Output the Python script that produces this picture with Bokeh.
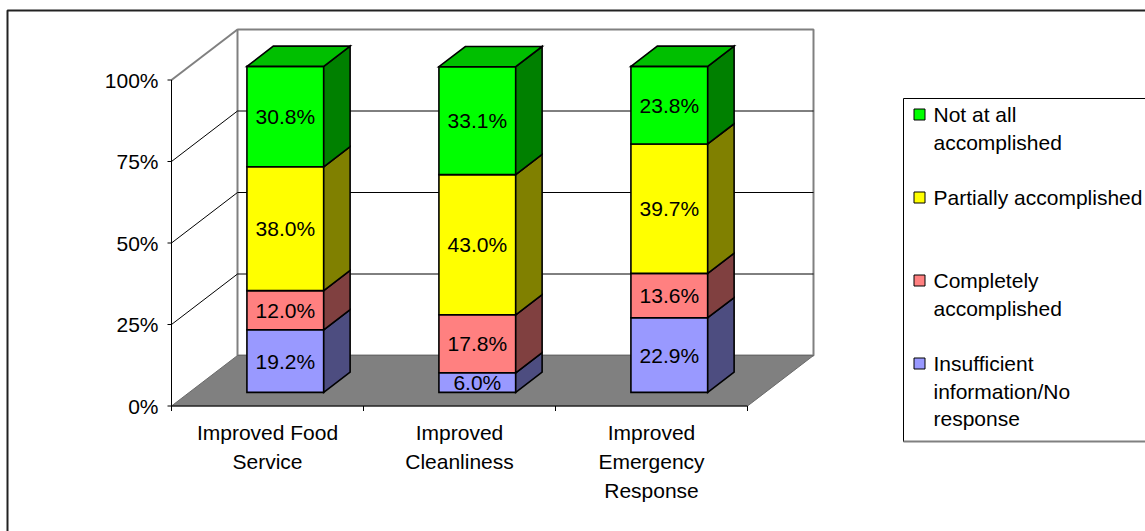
from bokeh.plotting import figure
from bokeh.models import Range1d, ColumnDataSource
from bokeh.core.properties import value
from bokeh.embed import file_html
from bokeh.resources import INLINE

# ---- data -------------------------------------------------------------
categories = ["Improved Food Service", "Improved Cleanliness", "Improved Emergency Response"]
category_lines = [["Improved Food", "Service"],
                  ["Improved", "Cleanliness"],
                  ["Improved", "Emergency", "Response"]]

# stacked from the floor upwards
series_names = ["Insufficient information/No response", "Completely accomplished",
                "Partially accomplished", "Not at all accomplished"]
insufficient = [19.2, 6.0, 22.9]
completely = [12.0, 17.8, 13.6]
partially = [38.0, 43.0, 39.7]
not_at_all = [30.8, 33.1, 23.8]
stack = [insufficient, completely, partially, not_at_all]

y_ticks = [0, 25, 50, 75, 100]
y_tick_labels = ["0%", "25%", "50%", "75%", "100%"]

legend_lines = [["Not at all", "accomplished"],
                ["Partially accomplished"],
                ["Completely", "accomplished"],
                ["Insufficient", "information/No", "response"]]

# ---- styling ----------------------------------------------------------
front_colors = ["#9999FF", "#FF8080", "#FFFF00", "#00FF00"]
side_colors = ["#4D4D80", "#804040", "#808000", "#008000"]
top_colors = ["#7373BF", "#BF6060", "#BFBF00", "#00BF00"]
FONT = value("Liberation Sans")
FS = value("21px")

W, H = 1145, 531
X0_PX, CAT_PX = 171, 192          # screen x of the first category edge, px per category
Y0_PX, PCT_PX = 405.5, 3.26       # screen y of 0 %, px per percent
DEPTH_DX = 66 / CAT_PX            # oblique depth offset (category units)
DEPTH_DY = 50.5 / PCT_PX          # oblique depth offset (percent units)
BAR_HALF = 0.2
D_FRONT, D_BACK = 0.27, 0.67
N = len(categories)


def proj(x, y, d):
    return x + d * DEPTH_DX, y + d * DEPTH_DY


def poly(points):
    return [pt[0] for pt in points], [pt[1] for pt in points]


p = figure(width=W, height=H, output_backend="svg", toolbar_location=None,
           x_range=Range1d(-X0_PX / CAT_PX, (W - X0_PX) / CAT_PX),
           y_range=Range1d(-(H - Y0_PX) / PCT_PX, Y0_PX / PCT_PX),
           x_axis_type=None, y_axis_type=None, title=None,
           min_border=0, outline_line_color=None)
p.extra_x_ranges = {"px": Range1d(0, W)}
p.extra_y_ranges = {"px": Range1d(H, 0)}

# ---- walls and floor --------------------------------------------------
bx, by = poly([proj(0, 0, 1), proj(N, 0, 1), proj(N, 100, 1), proj(0, 100, 1)])
p.patch(bx, by, fill_color="white", line_color="#808080", line_width=2)

grid_vals = [v for v in y_ticks if 0 < v < 100]
p.segment(x0=[proj(0, v, 1)[0] for v in grid_vals], y0=[proj(0, v, 1)[1] for v in grid_vals],
          x1=[proj(N, v, 1)[0] for v in grid_vals], y1=[proj(N, v, 1)[1] for v in grid_vals],
          line_color="black", line_width=1)
p.segment(x0=[0] * len(grid_vals), y0=grid_vals,
          x1=[proj(0, v, 1)[0] for v in grid_vals], y1=[proj(0, v, 1)[1] for v in grid_vals],
          line_color="black", line_width=1)
p.segment(x0=[0], y0=[100], x1=[proj(0, 100, 1)[0]], y1=[proj(0, 100, 1)[1]],
          line_color="#808080", line_width=2)

fx, fy = poly([proj(0, 0, 0), proj(N, 0, 0), proj(N, 0, 1), proj(0, 0, 1)])
p.patch(fx, fy, fill_color="#808080", line_color="#6a6a6a", line_width=1)

# ---- axes -------------------------------------------------------------
p.segment(x0=[0, 0], y0=[0, 0], x1=[0, N], y1=[100, 0], line_color="black", line_width=1)
p.segment(x0=[-4 / CAT_PX] * len(y_ticks), y0=y_ticks, x1=[0] * len(y_ticks), y1=y_ticks,
          line_color="black", line_width=1)
p.segment(x0=list(range(N + 1)), y0=[0] * (N + 1), x1=list(range(N + 1)),
          y1=[-5 / PCT_PX] * (N + 1), line_color="black", line_width=1)
p.text(x=[-13 / CAT_PX] * len(y_ticks), y=y_ticks, text=y_tick_labels,
       text_font=FONT, text_font_size=FS, text_align="right", text_baseline="middle",
       text_color="black")

cx, cy, ct = [], [], []
for i, lines in enumerate(category_lines):
    for j, line in enumerate(lines):
        cx.append(i + 0.5)
        cy.append(432 + 29 * j)
        ct.append(line)
p.text(x=cx, y=cy, text=ct, y_range_name="px", text_font=FONT, text_font_size=FS,
       text_align="center", text_baseline="middle", text_color="black")

# ---- stacked 3-D bars -------------------------------------------------
faces = dict(xs=[], ys=[], fill=[])
labels = dict(x=[], y=[], text=[])
for i in range(N):
    xl, xr = i + 0.5 - BAR_HALF, i + 0.5 + BAR_HALF
    base = 0.0
    for s, vals in enumerate(stack):
        v = vals[i]
        top = base + v
        xs, ys = poly([proj(xl, base, D_FRONT), proj(xr, base, D_FRONT),
                       proj(xr, top, D_FRONT), proj(xl, top, D_FRONT)])
        faces["xs"].append(xs); faces["ys"].append(ys); faces["fill"].append(front_colors[s])
        xs, ys = poly([proj(xr, base, D_FRONT), proj(xr, base, D_BACK),
                       proj(xr, top, D_BACK), proj(xr, top, D_FRONT)])
        faces["xs"].append(xs); faces["ys"].append(ys); faces["fill"].append(side_colors[s])
        if s == len(stack) - 1:
            xs, ys = poly([proj(xl, top, D_FRONT), proj(xr, top, D_FRONT),
                           proj(xr, top, D_BACK), proj(xl, top, D_BACK)])
            faces["xs"].append(xs); faces["ys"].append(ys); faces["fill"].append(top_colors[s])
        lx, ly = proj(i + 0.5, base + v / 2, D_FRONT)
        labels["x"].append(lx); labels["y"].append(ly); labels["text"].append(f"{v:.1f}%")
        base = top

p.patches("xs", "ys", source=ColumnDataSource(faces), fill_color="fill",
          line_color="black", line_width=1.6, line_join="miter")
p.text("x", "y", text="text", source=ColumnDataSource(labels), text_font=FONT,
       text_font_size=FS, text_align="center", text_baseline="middle", text_color="black")

# ---- legend -----------------------------------------------------------
p.quad(left=[903], right=[1160], top=[98], bottom=[441], x_range_name="px", y_range_name="px",
       fill_color="white", line_color="black", line_width=1)
p.segment(x0=[903], y0=[441], x1=[1160], y1=[441], x_range_name="px", y_range_name="px",
          line_color="#808080", line_width=2)
legend_fill = list(reversed(front_colors))
sw_y, tx, ty, tt = [], [], [], []
for k, lines in enumerate(legend_lines):
    y0 = 114 + 83 * k
    sw_y.append(y0)
    for j, line in enumerate(lines):
        tx.append(933); ty.append(y0 + 27.5 * j); tt.append(line)
p.rect(x=[919] * len(sw_y), y=sw_y, width=11, height=11, x_range_name="px", y_range_name="px",
       fill_color=legend_fill, line_color="black", line_width=1)
p.text(x=tx, y=ty, text=tt, x_range_name="px", y_range_name="px", text_font=FONT,
       text_font_size=FS, text_align="left", text_baseline="middle", text_color="black")

# ---- chart area border ------------------------------------------------
p.line(x=[7, 7, 1160], y=[545, 10, 10], x_range_name="px", y_range_name="px",
       line_color="#222222", line_width=2)

open("out.html", "w").write(file_html(p, INLINE))
